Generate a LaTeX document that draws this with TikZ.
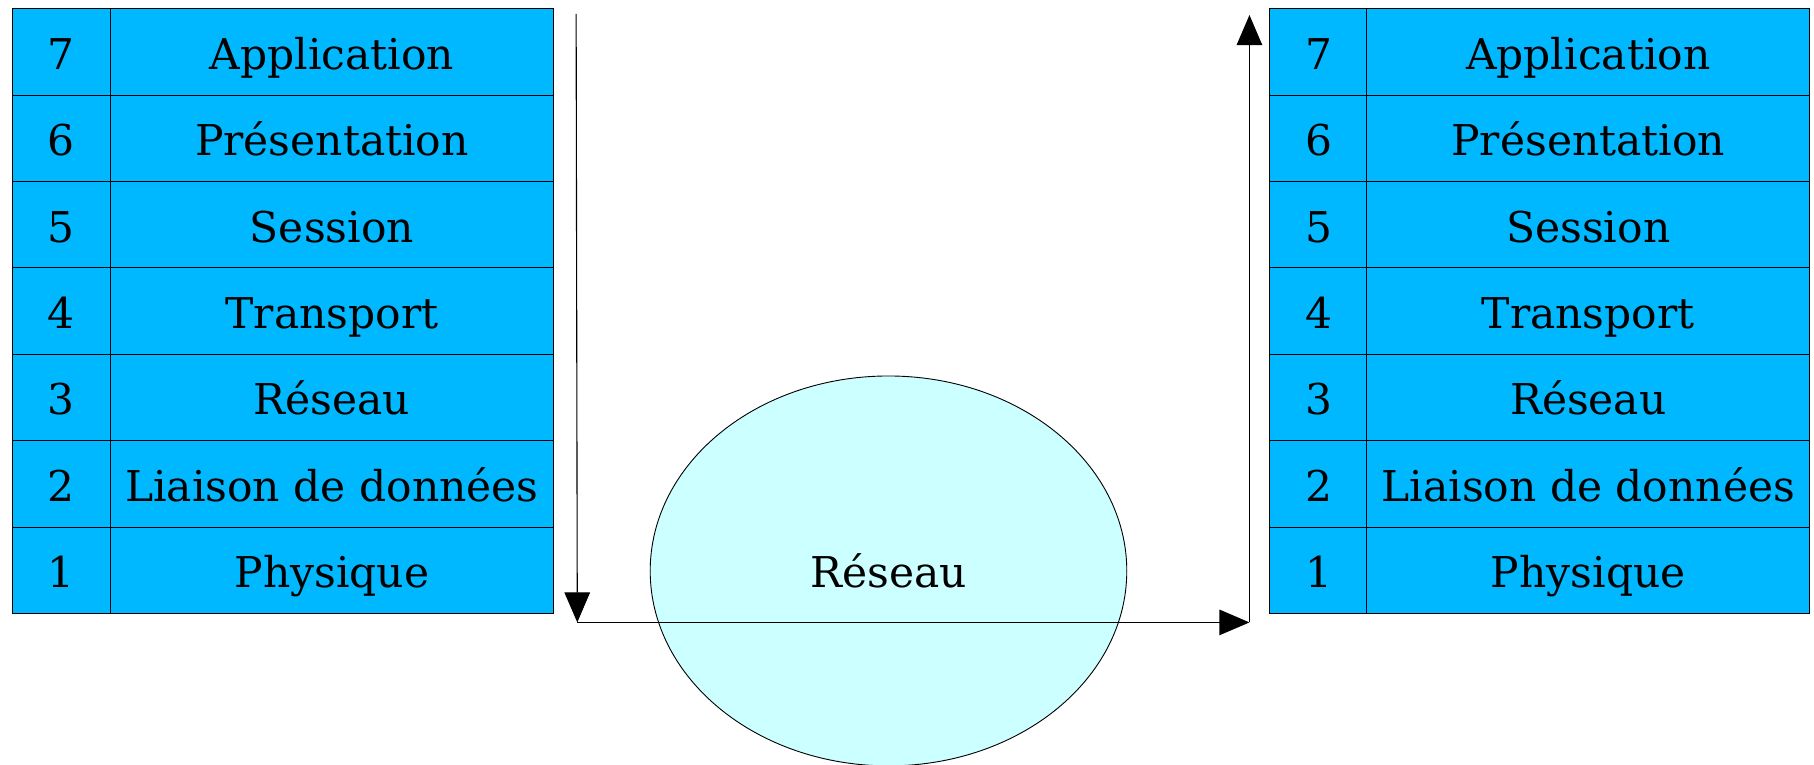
\documentclass[tikz,border=0pt]{standalone}
\usepackage{fontspec}
\setmainfont{DejaVu Serif}
\usetikzlibrary{arrows.meta,shapes.geometric}
\definecolor{layer}{HTML}{00B8FF}
\definecolor{netfill}{HTML}{CCFFFF}
\begin{document}
\begin{tikzpicture}[x=1.15689pt,y=-1.15689pt,
  cell/.style={draw=black, fill=layer, line width=0.9pt, inner sep=0pt, anchor=north west,
    minimum height=86.43pt, text height=35pt, text depth=0pt, font=\fontsize{42.4}{46}\selectfont},
  numcell/.style={cell, minimum width=98.3pt},
  namecell/.style={cell, minimum width=443.1pt},
  flow/.style={draw=black, line width=1.1pt, -{Triangle[length=30pt,width=25.5pt]}}]
\useasboundingbox (0,0) rectangle (1568,661.2);
\foreach \n/\t [count=\i from 0] in {7/Application,6/Présentation,5/Session,4/Transport,3/Réseau,2/Liaison de données,1/Physique}{
  \node[numcell] (L\n) at (10,7+\i*74.71) {\n};
  \node[namecell] (LN\n) at (95,7+\i*74.71) {\t};
  \node[numcell] (R\n) at (1097,7+\i*74.71) {\n};
  \node[namecell] (RN\n) at (1181,7+\i*74.71) {\t};
}
\node[ellipse, draw=black, line width=0.9pt, fill=netfill, minimum width=476.6pt, minimum height=389.9pt, inner sep=0pt,
  text height=34pt, text depth=0pt, font=\fontsize{42.4}{46}\selectfont] (net) at (768,493.5) {Réseau};
\coordinate (a1) at (498,12);
\coordinate (a2) at (499,538);
\coordinate (a3) at (1080,538);
\coordinate (a4) at (1080,13);
\draw[flow] (a1) -- (a2);
\draw[flow] (a2) -- (a3);
\draw[flow] (a3) -- (a4);
\end{tikzpicture}
\end{document}
